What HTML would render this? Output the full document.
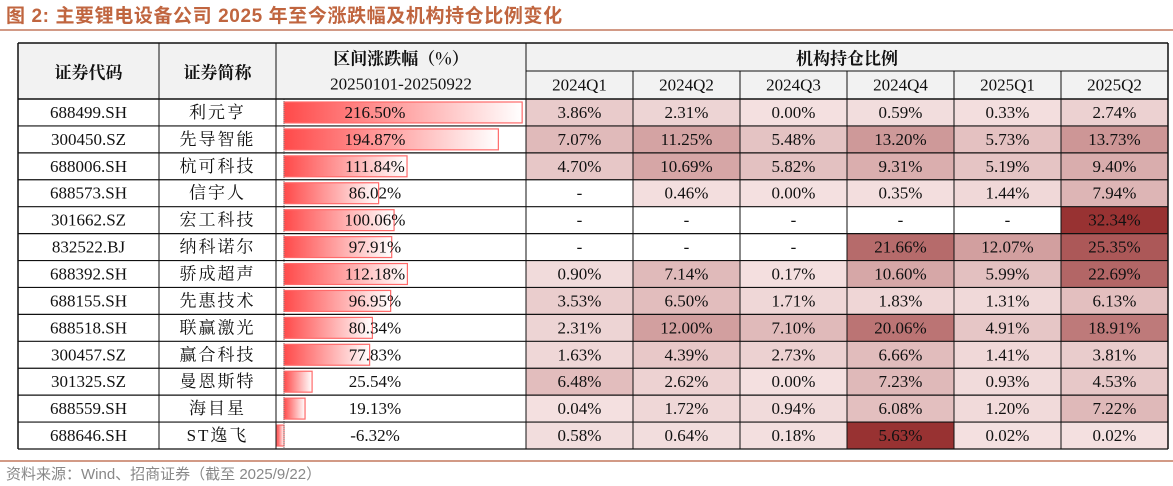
<!DOCTYPE html>
<html><head><meta charset="utf-8">
<style>
body{margin:0;width:1173px;height:486px;background:#fff;overflow:hidden;position:relative;font-family:"Liberation Serif","Noto Serif CJK SC",serif;}
.title{position:absolute;left:6px;top:1px;font:bold 19px "Liberation Sans","Noto Sans CJK SC",sans-serif;color:#c0653f;letter-spacing:0.6px;}
.tline{position:absolute;left:0;top:29px;width:1173px;height:2px;background:#d29a86;}
.fline{position:absolute;left:0;top:460px;width:1173px;height:2px;background:#d29a86;}
.foot{position:absolute;left:6px;top:463px;font:15px "Liberation Sans","Noto Sans CJK SC",sans-serif;color:#888;}
#tbl{position:absolute;left:0;top:0;}
</style></head><body>
<div class="title">图 2:  主要锂电设备公司 2025 年至今涨跌幅及机构持仓比例变化</div>
<div class="tline"></div>
<svg id="tbl" width="1173" height="486"></svg>
<div class="fline"></div>
<div class="foot">资料来源：Wind、招商证券（截至 2025/9/22）</div>
<script>
const codes=["688499.SH","300450.SZ","688006.SH","688573.SH","301662.SZ","832522.BJ","688392.SH","688155.SH","688518.SH","300457.SZ","301325.SZ","688559.SH","688646.SH"];
const names=["利元亨","先导智能","杭可科技","信宇人","宏工科技","纳科诺尔","骄成超声","先惠技术","联赢激光","赢合科技","曼恩斯特","海目星","ST逸飞"];
const changes=[216.50,194.87,111.84,86.02,100.06,97.91,112.18,96.95,80.34,77.83,25.54,19.13,-6.32];
const quarters=["2024Q1","2024Q2","2024Q3","2024Q4","2025Q1","2025Q2"];
const q24Q1=[3.86,7.07,4.70,null,null,null,0.90,3.53,2.31,1.63,6.48,0.04,0.58];
const q24Q2=[2.31,11.25,10.69,0.46,null,null,7.14,6.50,12.00,4.39,2.62,1.72,0.64];
const q24Q3=[0.00,5.48,5.82,0.00,null,null,0.17,1.71,7.10,2.73,0.00,0.94,0.18];
const q24Q4=[0.59,13.20,9.31,0.35,null,21.66,10.60,1.83,20.06,6.66,7.23,6.08,5.63];
const q25Q1=[0.33,5.73,5.19,1.44,null,12.07,5.99,1.31,4.91,1.41,0.93,1.20,0.02];
const q25Q2=[2.74,13.73,9.40,7.94,32.34,25.35,22.69,6.13,18.91,3.81,4.53,7.22,0.02];
const holdings=[q24Q1,q24Q2,q24Q3,q24Q4,q25Q1,q25Q2];
const highlighted=[[12,3]];

const svg=document.getElementById('tbl');const NS='http://www.w3.org/2000/svg';
function mk(t,a,p){const e=document.createElementNS(NS,t);for(const k in a)e.setAttribute(k,a[k]);(p||svg).appendChild(e);return e;}
function txt(x,y,s,o){const e=mk('text',Object.assign({x:x,y:y,'text-anchor':'middle','dominant-baseline':'central','font-size':17,fill:'#111'},o||{}));e.textContent=s;return e;}
const L=18,R=1168,T=43,H1=71,H2=99,B=449;
const rowH=(B-H2)/codes.length;
const colX=[L,159,276,526,633,740,847,954,1061,R];
const axisX=284,pxPer=1.1;
const rowY=i=>H2+i*rowH;
const xBar=v=>axisX+v*pxPer;
const maxH=Math.max(...holdings.flat().filter(v=>v!=null));
function heat(v){const t=Math.min(1,v/maxH);const a=[244,224,224],b=[152,50,50];return 'rgb('+a.map((c,i)=>Math.round(c+(b[i]-c)*t)).join(',')+')';}
const defs=mk('defs',{});const g=mk('linearGradient',{id:'bg',x1:0,x2:1,y1:0,y2:0},defs);
mk('stop',{offset:'0','stop-color':'#ff4a4a'},g);mk('stop',{offset:'1','stop-color':'#fff'},g);
let e=mk('rect',{x:L,y:T,width:R-L,height:H2-T,fill:'#f2f2f2'});

e=txt((colX[0]+colX[1])/2,(T+H2)/2,'证券代码',{'font-weight':'bold','font-family':'"Noto Serif CJK SC",serif'});

e=txt((colX[1]+colX[2])/2,(T+H2)/2,'证券简称',{'font-weight':'bold','font-family':'"Noto Serif CJK SC",serif'});

e=txt((colX[2]+colX[3])/2,57,'区间涨跌幅（%）',{'font-weight':'bold','font-family':'"Noto Serif CJK SC",serif'});

e=txt((colX[2]+colX[3])/2,84,'20250101-20250922',{'font-size':17});

e=txt((colX[3]+R)/2,57,'机构持仓比例',{'font-weight':'bold','font-family':'"Noto Serif CJK SC",serif'});

quarters.forEach((q,j)=>{const t=txt((colX[3+j]+colX[4+j])/2,85,q);
});
codes.forEach((c,i)=>{
 const y=rowY(i),cy=y+rowH/2;
 holdings.forEach((arr,j)=>{const v=arr[i];const hl=highlighted.some(h=>h[0]===i&&h[1]===j);
  const r=mk('rect',{x:colX[3+j],y:y,width:colX[4+j]-colX[3+j],height:rowH,fill:v==null?'#fff':(hl?heat(maxH):heat(v))});
  
  const t=txt((colX[3+j]+colX[4+j])/2,cy,v==null?'-':v.toFixed(2)+'%');
  
 });
 const v=changes[i];const x0=Math.min(xBar(0),xBar(v)),w=Math.abs(xBar(v)-xBar(0));
 const b=mk('rect',{x:x0,y:y+3,width:w,height:rowH-6,fill:'url(#bg)',stroke:'#ff6a6a','stroke-width':1.2});
 
 let t=txt((colX[0]+colX[1])/2,cy,c);
 t=txt((colX[1]+colX[2])/2,cy,names[i],{'font-family':'"Liberation Serif","Noto Serif CJK SC",serif','letter-spacing':'2'});
 
 t=txt(375,cy,v.toFixed(2)+'%');
});
e=mk('line',{x1:axisX,x2:axisX,y1:H2,y2:B,stroke:'#777','stroke-dasharray':'1,1'});

for(let i=0;i<=codes.length;i++){const y=rowY(i);mk('line',{x1:L,x2:R,y1:y,y2:y,stroke:'#111','stroke-width':i==0?1.5:1.2});}
mk('line',{x1:L,x2:R,y1:T,y2:T,stroke:'#111','stroke-width':1.5});
mk('line',{x1:colX[3],x2:R,y1:H1,y2:H1,stroke:'#111','stroke-width':1});
colX.forEach((x,k)=>{const y1=(k>3&&k<9)?H1:T;mk('line',{x1:x,x2:x,y1:y1,y2:B,stroke:'#111','stroke-width':(k==0||k==9)?1.5:1});});
</script>
</body></html>
